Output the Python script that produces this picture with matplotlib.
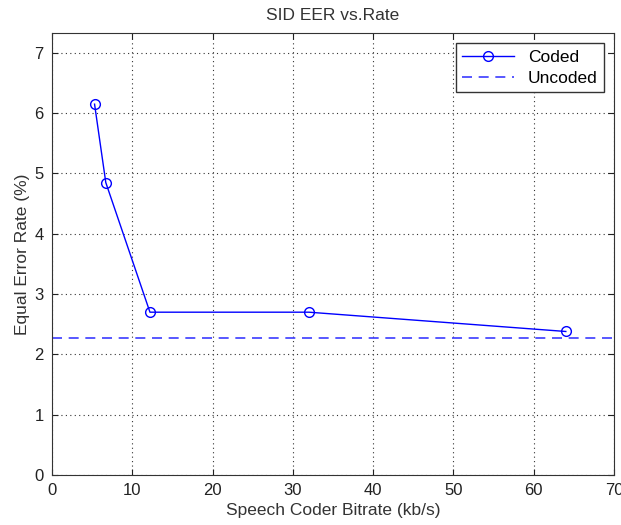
import matplotlib
matplotlib.use("Agg")
import matplotlib.pyplot as plt

plt.rcParams['font.family'] = ['Liberation Sans', 'DejaVu Sans']

bitrate = [5.3, 6.7, 12.2, 32, 64]
eer_coded = [6.15, 4.85, 2.70, 2.70, 2.38]
eer_uncoded = 2.27
xticks = [0, 10, 20, 30, 40, 50, 60, 70]
yticks = [0, 1, 2, 3, 4, 5, 6, 7]

fig = plt.figure(figsize=(6.21, 5.25), dpi=100)
ax = fig.add_axes([52/621, 1-475/525, (614-52)/621, (475-33)/525])

ax.plot(bitrate, eer_coded, color='#0000ff', lw=1, marker='o', ms=7,
        mfc='none', mec='#0000ff', mew=1, label='Coded')
ax.axhline(eer_uncoded, color='#3b3bff', lw=1.2, ls=(0, (6, 4)), label='Uncoded')

ax.set_xlim(0, 70)
ax.set_ylim(0, 7.33)
ax.set_xticks(xticks)
ax.set_yticks(yticks)
ax.tick_params(direction='in', top=True, right=True, length=4, labelsize=12,
               colors='#222222', pad=6)
ax.grid(True, color='#333333', ls=(0, (1, 3)), lw=0.8)
for s in ax.spines.values():
    s.set_color('#333333')

ax.set_title('SID EER vs.Rate', fontsize=12.5, color='#333333', pad=9)
ax.set_xlabel('Speech Coder Bitrate (kb/s)', fontsize=12.5, color='#333333', labelpad=3)
ax.set_ylabel('Equal Error Rate (%)', fontsize=12.5, color='#333333', labelpad=3)

leg = ax.legend(loc='upper right', fontsize=12.5, fancybox=False, framealpha=1,
                edgecolor='#333333', borderaxespad=0.6, handlelength=3,
                borderpad=0.35, labelspacing=0.35)
leg.get_frame().set_linewidth(1)

fig.savefig('out.png', dpi=100)
